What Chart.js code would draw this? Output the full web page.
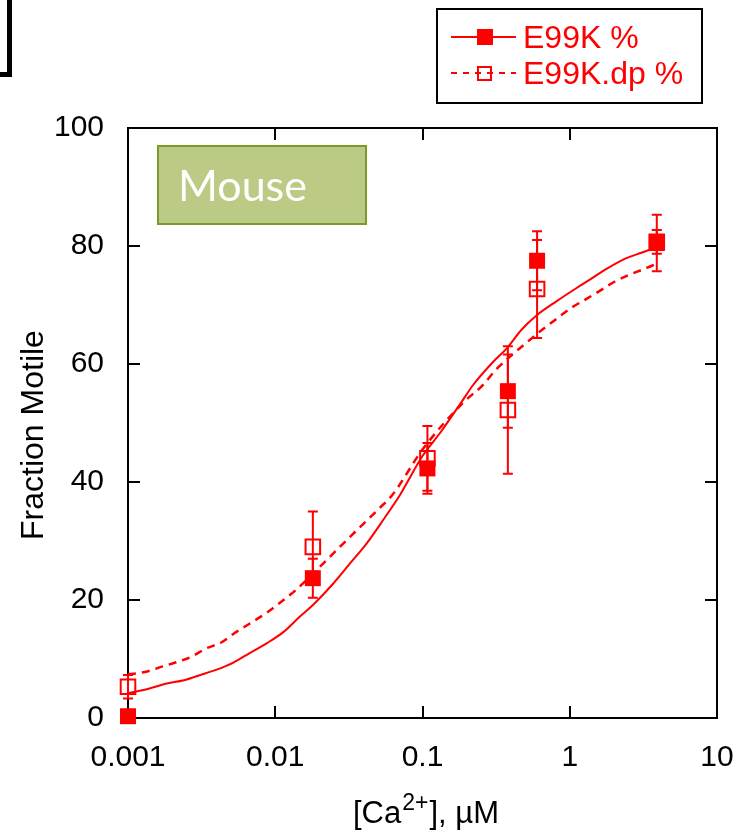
<!DOCTYPE html>
<html>
<head>
<meta charset="utf-8">
<script src="https://cdn.jsdelivr.net/npm/chart.js@4.4.1/dist/chart.umd.min.js"></script>
<style>
body{margin:0;background:#fff;}
canvas{display:block;}
</style>
</head>
<body>
<canvas id="mychart" width="736" height="831"></canvas>
<script>
// measured points, [Ca2+] in uM
var conc=[0.001,0.018,0.108,0.38,0.6,3.9]
var e99k=[0.3,23.7,42.3,55.4,77.5,80.5]
var e99kErr=[0,3.3,4.3,6.2,5,4.8]
var e99kDp=[5.3,29,44,52.2,72.7,80.7]
var e99kDpErr=[2,6,5.5,10.8,8.3,2]

// fitted curves
var fitConc=[0.001,0.0014,0.0018,0.0024,0.0031,0.004,0.0052,0.0067,0.0088,0.0114,0.0147,0.0181,0.0248,0.0322,0.0418,0.0542,0.0703,0.1,0.1315,0.18,0.22,0.3,0.375,0.47,0.6,0.82,1.1,1.37,1.8,2.4,3.1,3.9]
var fitE99k=[4.2,5.0,5.8,6.4,7.3,8.2,9.4,11.0,12.7,14.6,17.2,19.2,22.8,26.2,29.6,33.6,37.8,44.4,48.3,53.2,56.4,60.3,62.7,65.8,68.3,70.7,72.8,74.3,76.2,77.9,78.9,79.8]
var fitConcDp=[0.001,0.0013,0.0017,0.0021,0.0027,0.0034,0.0043,0.0053,0.0066,0.0086,0.0106,0.0138,0.0224,0.0331,0.0507,0.0624,0.1,0.188,0.254,0.32,0.513,0.649,0.807,1.02,1.29,1.6,2.0,2.52,3.19,3.9]
var fitE99kDp=[7.4,7.8,8.7,9.4,10.4,11.8,12.8,14.4,15.9,17.7,19.4,21.7,26.8,31,35.5,37.8,45.5,53.4,56.3,59.2,63.7,65.8,67.6,69.5,71,72.4,73.9,75.1,76.1,77]

var xTicks=[0.001,0.01,0.1,1,10]
var xTickLabels=['0.001','0.01','0.1','1','10']
var yTicks=[0,20,40,60,80,100]

function pts(xs,ys){
  var out=[]
  for(var i=0;i<xs.length;i++) out.push({x:xs[i],y:ys[i]})
  return out
}

var RED='#ff0000'
var FONT='"Liberation Sans", Arial, sans-serif'

// frame with inward ticks on all four sides
var framePlugin={
  id:'frame',
  beforeDatasetsDraw:function(chart){
    var ctx=chart.ctx, a=chart.chartArea, sx=chart.scales.x, sy=chart.scales.y
    ctx.save()
    ctx.strokeStyle='#000'
    ctx.lineWidth=2
    ctx.strokeRect(a.left,a.top,a.right-a.left,a.bottom-a.top)
    ctx.beginPath()
    xTicks.forEach(function(v){
      var px=Math.round(sx.getPixelForValue(v))
      ctx.moveTo(px,a.bottom);ctx.lineTo(px,a.bottom-12)
      ctx.moveTo(px,a.top);ctx.lineTo(px,a.top+12)
    })
    yTicks.forEach(function(v){
      var py=Math.round(sy.getPixelForValue(v))
      ctx.moveTo(a.left,py);ctx.lineTo(a.left+12,py)
      ctx.moveTo(a.right,py);ctx.lineTo(a.right-12,py)
    })
    ctx.stroke()

    // error bars
    ctx.strokeStyle=RED
    ctx.lineWidth=2
    function bars(ys,errs){
      for(var i=0;i<conc.length;i++){
        if(!errs[i]) continue
        var px=sx.getPixelForValue(conc[i])
        var top=sy.getPixelForValue(ys[i]+errs[i])
        var bot=sy.getPixelForValue(ys[i]-errs[i])
        ctx.beginPath()
        ctx.moveTo(px,top);ctx.lineTo(px,bot)
        ctx.moveTo(px-5,top);ctx.lineTo(px+5,top)
        ctx.moveTo(px-5,bot);ctx.lineTo(px+5,bot)
        ctx.stroke()
      }
    }
    bars(e99k,e99kErr)
    bars(e99kDp,e99kDpErr)
    ctx.restore()
  },
  afterDraw:function(chart){
    var ctx=chart.ctx
    ctx.save()
    // corner bracket
    ctx.fillStyle='#000'
    ctx.fillRect(0,72,12,5)
    ctx.fillRect(7,0,5,77)

    // legend box
    ctx.strokeStyle='#000'
    ctx.lineWidth=2
    ctx.strokeRect(437,9,265,94)
    ctx.strokeStyle=RED
    ctx.fillStyle=RED
    ctx.beginPath();ctx.moveTo(451,37);ctx.lineTo(516,37);ctx.stroke()
    ctx.fillRect(477,29,16,16)
    ctx.setLineDash([6,6])
    ctx.beginPath();ctx.moveTo(451,73);ctx.lineTo(516,73);ctx.stroke()
    ctx.setLineDash([])
    ctx.strokeRect(478,67,13,13)
    ctx.font='32px '+FONT
    ctx.textAlign='left'
    ctx.textBaseline='alphabetic'
    ctx.fillText('E99K %',523,48)
    ctx.fillText('E99K.dp %',523,84)

    // Mouse label
    ctx.fillStyle='#bbcb86'
    ctx.fillRect(158,146,208,78)
    ctx.strokeStyle='#7a9a2a'
    ctx.lineWidth=2
    ctx.strokeRect(158,146,208,78)
    ctx.fillStyle='#fff'
    ctx.font='43px Lato, "Open Sans", sans-serif'
    ctx.fillText('Mouse',178,201)

    // axis titles
    ctx.fillStyle='#000'
    ctx.save()
    ctx.translate(43,435)
    ctx.rotate(-Math.PI/2)
    ctx.font='32px '+FONT
    ctx.textAlign='center'
    ctx.fillText('Fraction Motile',0,0)
    ctx.restore()

    var base='31px '+FONT, sup='23px '+FONT
    ctx.font=base
    var w1=ctx.measureText('[Ca').width
    var w3=ctx.measureText('], \u00b5M').width
    ctx.font=sup
    var w2=ctx.measureText('2+').width
    var x0=425-(w1+w2+w3)/2
    ctx.textAlign='left'
    ctx.font=base
    ctx.fillText('[Ca',x0,823)
    ctx.font=sup
    ctx.fillText('2+',x0+w1+1,810)
    ctx.font=base
    ctx.fillText('], \u00b5M',x0+w1+w2+2,823)
    ctx.restore()
  }
}

var mychart=document.getElementById('mychart').getContext('2d')
var chart=new Chart(mychart,{
  type:'scatter',
  data:{
    datasets:[
      {
        label:'E99K %',
        data:pts(conc,e99k),
        pointStyle:'rect',
        pointRadius:11.3,
        backgroundColor:RED,
        borderWidth:0,
        showLine:false,
        clip:false
      },
      {
        label:'E99K.dp %',
        data:pts(conc,e99kDp),
        pointStyle:'rect',
        pointRadius:10.3,
        backgroundColor:'rgba(0,0,0,0)',
        borderColor:RED,
        borderWidth:2,
        showLine:false,
        clip:false
      },
      {
        label:'fit',
        data:pts(fitConc,fitE99k),
        showLine:true,
        pointRadius:0,
        borderColor:RED,
        borderWidth:2,
        cubicInterpolationMode:'monotone'
      },
      {
        label:'fit dp',
        data:pts(fitConcDp,fitE99kDp),
        showLine:true,
        pointRadius:0,
        borderColor:RED,
        borderWidth:2.5,
        borderDash:[8,6],
        cubicInterpolationMode:'monotone'
      }
    ]
  },
  options:{
    responsive:false,
    devicePixelRatio:1,
    animation:false,
    layout:{padding:{top:128,right:0,left:0,bottom:0}},
    plugins:{legend:{display:false},tooltip:{enabled:false}},
    scales:{
      x:{
        type:'logarithmic',
        min:0.001,
        max:10,
        grid:{display:false,drawTicks:false},
        border:{display:false},
        afterBuildTicks:function(scale){
          scale.ticks=xTicks.map(function(v){return {value:v}})
        },
        afterFit:function(scale){
          scale.height=113
          scale.paddingLeft=0
          scale.paddingRight=19
        },
        ticks:{
          color:'#000',
          font:{family:FONT,size:30},
          padding:22,
          maxRotation:0,
          autoSkip:false,
          callback:function(v,i){return xTickLabels[i]}
        }
      },
      y:{
        min:0,
        max:100,
        grid:{display:false,drawTicks:false},
        border:{display:false},
        afterBuildTicks:function(scale){
          scale.ticks=yTicks.map(function(v){return {value:v}})
        },
        afterFit:function(scale){scale.width=128},
        ticks:{
          color:'#000',
          font:{family:FONT,size:30},
          padding:24,
          callback:function(v){return String(v)}
        }
      }
    }
  },
  plugins:[framePlugin]
})
</script>
</body>
</html>
